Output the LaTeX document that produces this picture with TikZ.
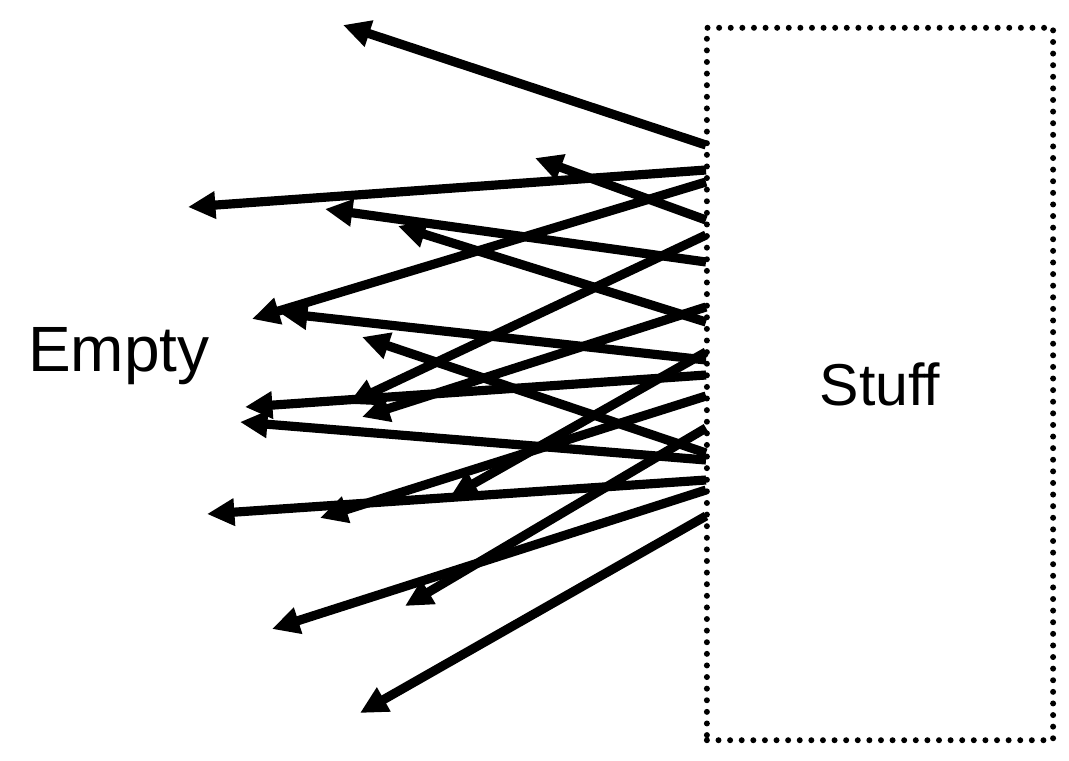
\documentclass[tikz,border=0pt]{standalone}
\usepackage{fontspec}
\setmainfont{Liberation Sans}
\usetikzlibrary{arrows.meta}

\begin{document}
\begin{tikzpicture}[
  x=0.01cm, y=-0.01cm,
  push/.style={line width=2.6pt, -{Triangle[length=7.8pt,width=7.4pt]}},
  region/.style={draw, dash pattern=on 0pt off 3.3pt, line cap=round, line width=1.7pt,
                 minimum width=3.46cm, minimum height=7.12cm, font=\fontsize{16.8}{20}\selectfont}
]
  \useasboundingbox (0,0) rectangle (1069,760);

  \node[region] (stuff) at (880,384) {Stuff};
  \node[anchor=base, font=\fontsize{18.2}{22}\selectfont] (empty) at (119,371) {Empty};

  % start on the box edge / free end
  \foreach \i/\sy/\tx/\ty in {
      1/145/343/25, 2/170/188/207, 3/182/252/319, 4/220/535/158,
      5/262/325/209, 6/235/348/404, 7/307/362/417, 8/322/398/226,
      9/352/450/497, 10/360/280/313, 11/375/245/407, 12/396/320/518,
      13/428/405/606, 14/453/362/337, 15/460/240/422, 16/480/207/514,
      17/490/272/629, 18/516/360/713}{
    \coordinate (s\i) at (706,\sy);
    \coordinate (t\i) at (\tx,\ty);
    \draw[push] (s\i) -- (t\i);
  }
\end{tikzpicture}
\end{document}
